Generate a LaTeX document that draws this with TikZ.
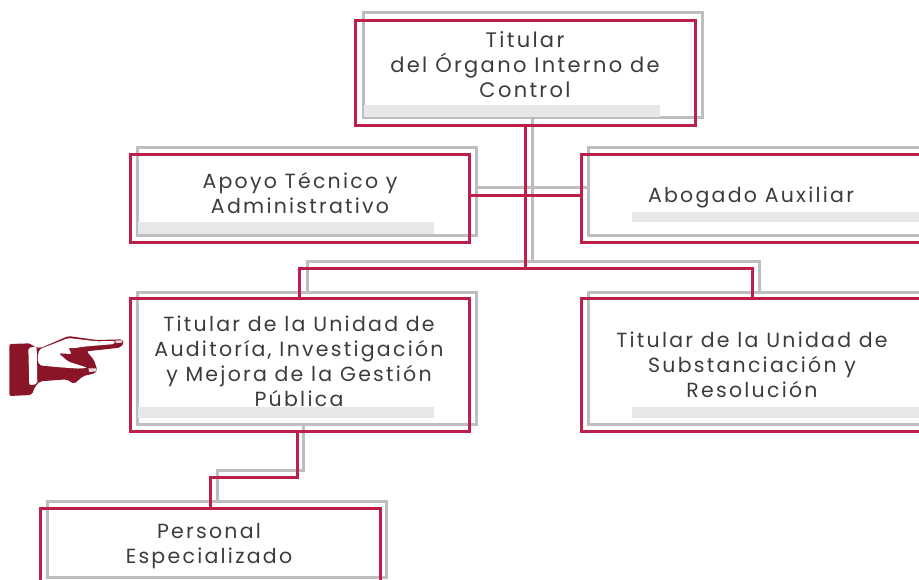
\documentclass[tikz,border=0pt]{standalone}
\usepackage{fontspec}
\setmainfont[LetterSpace=11]{Poppins}
\definecolor{redline}{HTML}{BE1E4A}
\definecolor{grayline}{HTML}{BCBEC0}
\definecolor{barfill}{HTML}{E6E7E8}
\definecolor{handred}{HTML}{8A1529}
\definecolor{inktext}{HTML}{3C3C3C}
\tikzset{
  box/.style={draw,fill=none,line width=3pt,minimum width=#1,inner sep=0pt,outer sep=0pt},
  redbox/.style={box=#1,draw=redline},
  graybox/.style={box=#1,draw=grayline},
  bar/.style={fill=barfill,draw=none,inner sep=0pt,outer sep=0pt},
  redlink/.style={draw=redline,line width=3pt},
  graylink/.style={draw=grayline,line width=3pt},
  label/.style={text=inktext,font=\fontsize{20.5pt}{25pt}\selectfont,align=center,inner sep=0pt},
  biglabel/.style={label,font=\fontsize{21pt}{25pt}\selectfont},
}
\begin{document}
\begin{tikzpicture}[x=1pt,y=-1pt]
\useasboundingbox (0,0) rectangle (919,579);
\clip (0,0) rectangle (919,579);
% gray back boxes
\node[graybox=339pt,minimum height=105pt,anchor=north west] (gTop) at (363,12.7) {};
\node[graybox=339.5pt,minimum height=88pt,anchor=north west] (gSL) at (137,147) {};
\node[graybox=340pt,minimum height=88pt,anchor=north west] (gSR) at (588.7,147) {};
\node[graybox=339.5pt,minimum height=132pt,anchor=north west] (gUL) at (137,292) {};
\node[graybox=340pt,minimum height=132pt,anchor=north west] (gUR) at (588.7,292) {};
\node[graybox=339.5pt,minimum height=76.5pt,anchor=north west] (gPE) at (47,501) {};
% bars
\fill[bar] (364,105) rectangle (660,117);
\fill[bar] (138,222) rectangle (434,234);
\fill[bar] (632,212) rectangle (919,222);
\fill[bar] (138,407) rectangle (434,418);
\fill[bar] (632,407) rectangle (919,418);
% gray connectors
\coordinate (gBus) at (532.7,261);
\coordinate (gLow) at (303.7,470);
\coordinate (gLow2) at (217,470);
\path[graylink] (gSL.east |- 0,187) -- (gSR.west |- 0,187);
\path[graylink] (gTop.south -| gBus) -- (gBus);
\path[graylink] (gUL.north -| 307,0) |- (gBus) -| (gUR.north -| 759.5,0);
\path[graylink] (gUL.south -| gLow) -- (gLow) -- (gLow2) -- (gPE.north -| gLow2);
% red boxes
\node[redbox=339.5pt,minimum height=105pt,anchor=north west] (rTop) at (355.8,20) {};
\node[redbox=339.5pt,minimum height=88pt,anchor=north west] (rSL) at (130,154) {};
\node[redbox=340pt,minimum height=88pt,anchor=north west] (rSR) at (581.7,154) {};
\node[redbox=339.5pt,minimum height=133pt,anchor=north west] (rUL) at (130,298) {};
\node[redbox=340pt,minimum height=133pt,anchor=north west] (rUR) at (581.7,298) {};
\node[redbox=339.5pt,minimum height=100pt,anchor=north west] (rPE) at (40.5,508) {};
% red connectors
\coordinate (rBus) at (525.7,268);
\coordinate (rLow) at (297,477);
\coordinate (rLow2) at (210,477);
\path[redlink] (rSL.east |- 0,195) -- (rSR.west |- 0,195);
\path[redlink] (rTop.south -| rBus) -- (rBus);
\path[redlink] (rUL.north -| 299.5,0) |- (rBus) -| (rUR.north -| 752.7,0);
\path[redlink] (rUL.south -| rLow) -- (rLow) -- (rLow2) -- (rPE.north -| rLow2);
% labels
\node[biglabel] (tTop) at (525,65) {Titular\\del Órgano Interno de\\Control};
\node[label] (tSL) at (300,193) {Apoyo Técnico y\\Administrativo};
\node[label] (tSR) at (751,197.5) {Abogado Auxiliar};
\node[label] (tUL) at (299,361.5) {Titular de la Unidad de\\Auditoría, Investigación\\y Mejora de la Gestión\\Pública};
\node[label] (tUR) at (752,365) {Titular de la Unidad de\\Substanciación y\\Resolución};
\node[label] (tPE) at (209,546) {Personal\\Especializado};
% pointing hand
\begin{scope}[shift={(0,280)},x=0.3333pt,y=-0.3333pt]
\fill[handred,rounded corners=2pt] (28,192) -- (92,190) -- (100,200) -- (122,204) -- (205,168) -- (290,180) -- (368,178) -- (372,190) -- (360,203) -- (260,214) -- (282,240) -- (292,270) -- (285,280) -- (250,288) -- (222,312) -- (200,298) -- (120,304) -- (105,320) -- (95,345) -- (28,348) -- cycle;
\fill[white,rounded corners=2pt] (118,208) -- (205,174) -- (290,184) -- (345,183) -- (345,192) -- (250,200) -- (220,205) -- (205,203) -- (215,222) -- (176,220) -- (205,245) -- (262,263) -- (240,266) -- (180,262) -- (118,256) -- (112,235) -- cycle;
\fill[white,rounded corners=2pt] (85,203) -- (110,200) -- (112,312) -- (88,316) -- cycle;
\fill[white!85!handred] (346,181) -- (367,181) -- (366,188) -- (348,189) -- cycle;
\fill[white!85!handred] (265,265) -- (288,265) -- (288,274) -- (268,276) -- cycle;
\end{scope}
\end{tikzpicture}
\end{document}
